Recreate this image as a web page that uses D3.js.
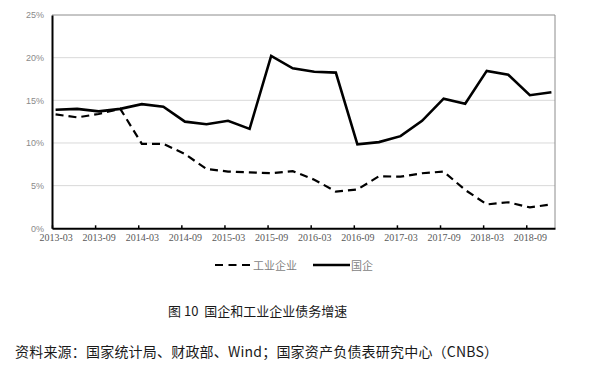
<!DOCTYPE html>
<html><head><meta charset="utf-8">
<script src="https://cdn.jsdelivr.net/npm/d3@7/dist/d3.min.js"></script>
<style>
html,body{margin:0;padding:0;background:#fff;}
svg{display:block;}
</style></head>
<body>
<svg id="chart" width="595" height="366"></svg>
<script>
const quarters = ["2013-03","2013-06","2013-09","2013-12","2014-03","2014-06","2014-09","2014-12",
  "2015-03","2015-06","2015-09","2015-12","2016-03","2016-06","2016-09","2016-12",
  "2017-03","2017-06","2017-09","2017-12","2018-03","2018-06","2018-09","2018-12"];
const soeGrowth = [13.9,14.0,13.7,14.0,14.55,14.25,12.5,12.2,12.6,11.65,20.2,18.75,18.35,18.25,9.85,10.1,10.8,12.6,15.2,14.6,18.45,18.0,15.6,15.95];
const industrialGrowth = [13.35,13.0,13.4,14.0,9.9,9.9,8.7,6.95,6.65,6.55,6.45,6.7,5.7,4.3,4.55,6.1,6.05,6.45,6.65,4.5,2.8,3.05,2.45,2.8];
const xTickLabels = ["2013-03","2013-09","2014-03","2014-09","2015-03","2015-09","2016-03","2016-09","2017-03","2017-09","2018-03","2018-09"];
const yTicks = [0,5,10,15,20,25];
const seriesNames = ["工业企业","国企"];
const titleText = "图 10  国企和工业企业债务增速";
const sourceText = "资料来源：国家统计局、财政部、Wind；国家资产负债表研究中心（CNBS）";

const monthIndex = s => { const [y,m] = s.split("-").map(Number); return (y-2013)*12 + (m-3); };

const svg = d3.select("#chart");
const L = 52, R = 555, T = 15, B = 228.3;
const x = d3.scaleLinear().domain([0,70]).range([L,R]);
const y = d3.scaleLinear().domain([0,25]).range([B,T]);

// gridlines
svg.append("g").selectAll("line").data(yTicks.filter(v=>v>0 && v<25)).join("line")
  .attr("x1",L).attr("x2",R).attr("y1",d=>y(d)).attr("y2",d=>y(d))
  .attr("stroke","#d9d9d9").attr("stroke-width",1);

// frame top/right
svg.append("line").attr("x1",L).attr("x2",R).attr("y1",T).attr("y2",T).attr("stroke","#8c8c8c").attr("stroke-width",1);
svg.append("line").attr("x1",R).attr("x2",R).attr("y1",T).attr("y2",B).attr("stroke","#8c8c8c").attr("stroke-width",1);

// y axis
const yAxis = svg.append("g").attr("transform",`translate(${L},0)`)
  .call(d3.axisLeft(y).tickValues(yTicks).tickSize(0).tickPadding(8).tickFormat(d=>d+"%"));
yAxis.select(".domain").attr("stroke","#000").attr("stroke-width",2);
yAxis.selectAll("text").attr("font-family","'Liberation Sans', Arial, sans-serif").attr("font-size",9).attr("fill","#8a8a8a");

// x axis
const dx = x(0.5)-x(0);
const xAxis = svg.append("g").attr("transform",`translate(0,${B})`)
  .call(d3.axisBottom(x).tickValues(xTickLabels.map(monthIndex)).tickSizeInner(-3).tickSizeOuter(0).tickPadding(6)
    .tickFormat((d,i)=>xTickLabels[i]));
xAxis.select(".domain").attr("stroke","#000").attr("stroke-width",2);
xAxis.selectAll(".tick line").attr("stroke","#000").attr("stroke-width",1.5);
xAxis.selectAll("text").attr("dx",dx).attr("font-family","'Liberation Serif', 'Times New Roman', serif").attr("font-size",10).attr("fill","#595959");

// lines
const line = d3.line().x((d,i)=>x(monthIndex(quarters[i])+0.5)).y(d=>y(d));
svg.append("path").datum(industrialGrowth).attr("d",line).attr("fill","none")
  .attr("stroke","#000").attr("stroke-width",2.2).attr("stroke-dasharray","8,5");
svg.append("path").datum(soeGrowth).attr("d",line).attr("fill","none")
  .attr("stroke","#000").attr("stroke-width",2.6).attr("stroke-linejoin","miter");

// legend
const lg = svg.append("g").attr("font-family","'Noto Sans CJK SC', sans-serif").attr("font-size",11).attr("fill","#7f7f7f");
lg.append("line").attr("x1",215).attr("x2",250).attr("y1",265).attr("y2",265).attr("stroke","#000").attr("stroke-width",2.2).attr("stroke-dasharray","8,5.5");
lg.append("text").attr("x",253).attr("y",265).attr("dominant-baseline","central").text(seriesNames[0]);
lg.append("line").attr("x1",313).attr("x2",350).attr("y1",265).attr("y2",265).attr("stroke","#000").attr("stroke-width",2.6);
lg.append("text").attr("x",351).attr("y",265).attr("dominant-baseline","central").text(seriesNames[1]);

// title and source
svg.append("text").attr("x",168).attr("y",310).attr("dominant-baseline","central")
  .attr("font-family","'Noto Sans CJK SC', sans-serif").attr("font-size",13).attr("fill","#1a1a1a")
  .attr("xml:space","preserve").style("white-space","pre").text(titleText);
svg.append("text").attr("x",15).attr("y",351).attr("dominant-baseline","central")
  .attr("font-family","'Noto Sans CJK SC', sans-serif").attr("font-size",14).attr("fill","#1a1a1a")
  .attr("textLength",483).attr("lengthAdjust","spacing").text(sourceText);
</script>
</body></html>
